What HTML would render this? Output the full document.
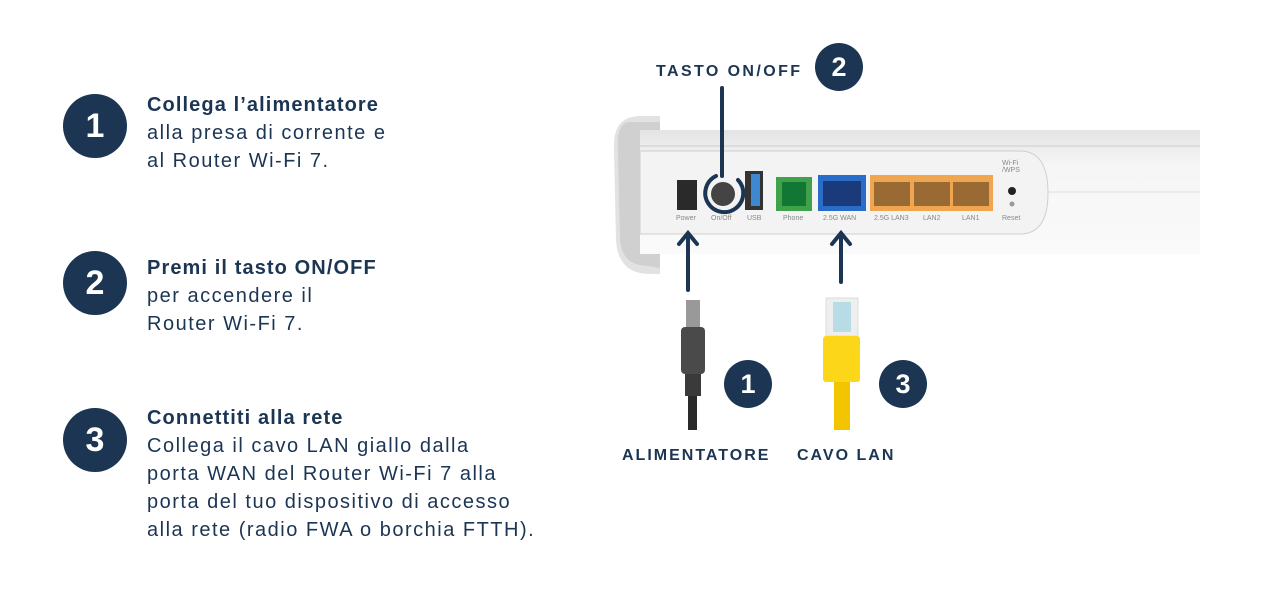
<!DOCTYPE html>
<html><head><meta charset="utf-8"><style>
body{margin:0;width:1280px;height:600px;background:#fff;position:relative;overflow:hidden;font-family:"Liberation Sans",sans-serif;color:#1b3553}
.c{position:absolute;border-radius:50%;background:#1b3553;color:#fff;font-weight:bold;text-align:center}
.big{width:64px;height:64px;line-height:64px;font-size:34px}
.sm{width:48px;height:48px;line-height:48px;font-size:27px}
.t{position:absolute;left:147px;font-size:20px;line-height:28px;white-space:nowrap;letter-spacing:1.5px}
.t b{font-weight:bold;letter-spacing:1.1px}
.lab{position:absolute;font-weight:bold;font-size:16px;letter-spacing:2px;white-space:nowrap}
.pl{position:absolute;font-size:7px;color:#888;top:215px}
</style></head><body>
<div class="c big" style="left:63px;top:94px">1</div>
<div class="c big" style="left:63px;top:251px">2</div>
<div class="c big" style="left:63px;top:408px">3</div>
<div class="t" style="top:91px"><b>Collega l’alimentatore</b><br>alla presa di corrente e<br>al Router Wi-Fi 7.</div>
<div class="t" style="top:254px"><b>Premi il tasto ON/OFF</b><br>per accendere il<br>Router Wi-Fi 7.</div>
<div class="t" style="top:404px"><b>Connettiti alla rete</b><br>Collega il cavo LAN giallo dalla<br>porta WAN del Router Wi-Fi 7 alla<br>porta del tuo dispositivo di accesso<br>alla rete (radio FWA o borchia FTTH).</div>

<svg style="position:absolute;left:0;top:0" width="1280" height="600">
<defs><linearGradient id="g" x1="0" y1="0" x2="0" y2="1"><stop offset="0" stop-color="#e4e4e4"/><stop offset=".3" stop-color="#f6f6f6"/><stop offset="1" stop-color="#fafafa"/></linearGradient></defs>
<path d="M640 116 Q612 116 614 150 L616 240 Q618 274 650 274 L660 274 L660 116 Z" fill="#e2e2e2"/>
<path d="M628 122 Q616 125 618 150 L620 240 Q622 262 640 265 L660 268 L660 122Z" fill="#d0d0d0"/>
<rect x="640" y="130" width="560" height="124" fill="url(#g)"/>
<line x1="640" y1="146" x2="1200" y2="146" stroke="#ccc"/>
<line x1="1046" y1="192" x2="1200" y2="192" stroke="#ddd"/>
<path d="M640 151 L1020 151 Q1048 151 1048 193 Q1048 234 1020 234 L640 234 Z" fill="#f3f3f3" stroke="#cfcfcf"/>
<rect x="677" y="180" width="20" height="30" fill="#2a2a2a"/>
<circle cx="723" cy="194" r="12" fill="#444"/>
<rect x="745" y="171" width="18" height="39" fill="#333"/><rect x="751" y="174" width="9" height="32" fill="#3d88d0"/>
<rect x="776" y="177" width="36" height="34" fill="#3fa14a"/><rect x="782" y="182" width="24" height="24" fill="#173"/>
<rect x="818" y="175" width="48" height="36" fill="#2a6dc9"/><rect x="823" y="181" width="38" height="25" fill="#1a3a7a"/>
<rect x="870" y="175" width="123" height="36" fill="#f0a550"/>
<rect x="874" y="182" width="36" height="24" fill="#9a6a35"/><rect x="914" y="182" width="36" height="24" fill="#9a6a35"/><rect x="953" y="182" width="36" height="24" fill="#9a6a35"/>
<circle cx="1012" cy="191" r="4" fill="#222"/><circle cx="1012" cy="204" r="2.5" fill="#999"/>
<path d="M722 88 L722 176" stroke="#1b3553" stroke-width="4" stroke-linecap="round"/>
<path d="M716 176 A19 19 0 1 0 738 180" fill="none" stroke="#1b3553" stroke-width="4" stroke-linecap="round"/>
<path d="M688 290 L688 234 M679 244 L688 233 L697 244" fill="none" stroke="#1b3553" stroke-width="4" stroke-linecap="round"/>
<path d="M841 282 L841 234 M832 244 L841 233 L850 244" fill="none" stroke="#1b3553" stroke-width="4" stroke-linecap="round"/>
<rect x="686" y="300" width="14" height="30" fill="#999"/>
<rect x="681" y="327" width="24" height="47" rx="4" fill="#4a4a4a"/>
<rect x="685" y="374" width="16" height="22" fill="#3a3a3a"/>
<rect x="688" y="396" width="9" height="34" fill="#2a2a2a"/>
<rect x="826" y="298" width="32" height="38" fill="#eee" stroke="#ddd"/>
<rect x="833" y="302" width="18" height="30" fill="#b8dce6"/>
<rect x="823" y="336" width="37" height="46" rx="3" fill="#fbd619"/>
<rect x="834" y="382" width="16" height="48" fill="#f3c400"/>
</svg>
<div class="pl" style="left:676px">Power</div><div class="pl" style="left:711px">On/Off</div><div class="pl" style="left:747px">USB</div>
<div class="pl" style="left:783px">Phone</div><div class="pl" style="left:823px">2.5G WAN</div><div class="pl" style="left:874px">2.5G LAN3</div>
<div class="pl" style="left:923px">LAN2</div><div class="pl" style="left:962px">LAN1</div><div class="pl" style="left:1002px">Reset</div>
<div class="pl" style="left:1002px;top:160px">Wi-Fi<br>/WPS</div>
<div class="lab" style="left:656px;top:63px;letter-spacing:2.4px">TASTO ON/OFF</div>
<div class="c sm" style="left:815px;top:43px">2</div>
<div class="c sm" style="left:724px;top:360px">1</div>
<div class="c sm" style="left:879px;top:360px">3</div>
<div class="lab" style="left:622px;top:447px">ALIMENTATORE</div>
<div class="lab" style="left:797px;top:447px">CAVO LAN</div>
</body></html>
